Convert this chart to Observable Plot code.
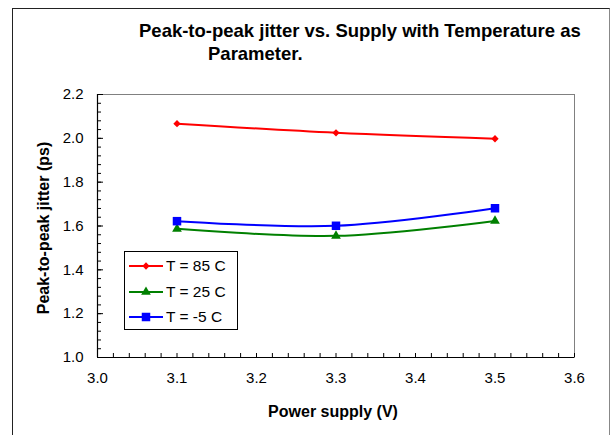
<!DOCTYPE html>
<html>
<head>
<meta charset="utf-8">
<script src="https://cdn.jsdelivr.net/npm/d3@7"></script>
<script src="https://cdn.jsdelivr.net/npm/@observablehq/plot@0.6"></script>
<style>
  html, body { margin: 0; padding: 0; background: #fff; }
  #wrap { position: relative; width: 612px; height: 435px; overflow: hidden; font-family: "Liberation Sans", Arial, sans-serif; }
  .abs { position: absolute; white-space: nowrap; color: #000; }
  #outer { position: absolute; left: 12px; top: 8px; width: 598px; height: 460px; border: 1px solid #222; border-right-color: #888; box-sizing: border-box; }
  .title { font-weight: bold; font-size: 18.5px; line-height: 20px; }
  .axt { font-weight: bold; font-size: 16px; line-height: 18px; }
  #legend { position: absolute; left: 124px; top: 251px; width: 114px; height: 79px; border: 1px solid #000; box-sizing: border-box; background: #fff; font-size: 15.5px; }
  #legend .row { position: absolute; left: 4px; height: 18px; display: flex; align-items: center; }
  #legend svg { margin-right: 3px; }
</style>
</head>
<body>
<div id="wrap">
  <div id="outer"></div>
  <div id="chart" style="position:absolute;left:0;top:0;"></div>
  <div class="abs title" id="t1" style="left:139px;top:21px;"></div>
  <div class="abs title" id="t2" style="left:208px;top:44px;"></div>
  <div class="abs axt" id="ylab" style="left:44px;top:228px;transform:translate(-50%,-50%) rotate(-90deg);"></div>
  <div class="abs axt" id="xlab" style="left:333px;top:412px;transform:translate(-50%,-50%);"></div>
  <div id="legend"></div>
</div>
<script>
// ---- data ----
const titleLines = ["Peak-to-peak jitter vs. Supply with Temperature as", "Parameter."];
const xTitle = "Power supply (V)";
const yTitle = "Peak-to-peak jitter (ps)";
const supply = [3.1, 3.3, 3.5];
const seriesNames = ["T = 85 C", "T = 25 C", "T = -5 C"];
const jitter85 = [2.067, 2.025, 1.998];
const jitter25 = [1.587, 1.555, 1.623];
const jitterM5 = [1.622, 1.601, 1.681];
const seriesColors = ["#ff0000", "#008000", "#0000ff"];
const seriesSymbols = ["diamond2", "triangle", "square"];
const xTickLabels = [3.0, 3.1, 3.2, 3.3, 3.4, 3.5, 3.6];
const yTickLabels = [1.0, 1.2, 1.4, 1.6, 1.8, 2.0, 2.2];

// ---- build ----
const allValues = [jitter85, jitter25, jitterM5];
const rows = [];
seriesNames.forEach((name, i) => supply.forEach((v, j) => rows.push({series: name, supply: v, jitter: allValues[i][j]})));

const xMinor = d3.range(0, 31).map(i => 3.0 + i * 0.02);
const yMinor = d3.range(0, 31).map(i => 1.0 + i * 0.04);

const symbolSizes = {"diamond2": 3.3, "triangle": 3.6, "square": 4.8};

const plot = Plot.plot({
  width: 612,
  height: 435,
  marginLeft: 97,
  marginRight: 38,
  marginTop: 94,
  marginBottom: 78,
  style: {fontFamily: "'Liberation Sans', Arial, sans-serif", fontSize: "15px", background: "transparent", color: "#000"},
  x: {domain: [3.0, 3.6]},
  y: {domain: [1.0, 2.2]},
  marks: [
    Plot.frame({stroke: "#808080"}),
    Plot.axisX(xMinor, {tickSize: -4, text: null, label: null, stroke: "#000"}),
    Plot.axisX(xTickLabels, {tickSize: 0, tickPadding: 15, tickFormat: d => d.toFixed(1), label: null, fill: "#000"}),
    Plot.axisY(yMinor, {tickSize: -4, text: null, label: null, stroke: "#000"}),
    Plot.axisY(yTickLabels, {tickSize: -6, tickPadding: 20, tickFormat: d => d.toFixed(1), label: null, fill: "#000"}),
    Plot.ruleX([3.0], {stroke: "#000", strokeWidth: 1.2}),
    Plot.ruleY([1.0], {stroke: "#000", strokeWidth: 1.2}),
    Plot.line(rows, {x: "supply", y: "jitter", z: "series", stroke: "series", strokeWidth: 2, curve: "catmull-rom"}),
    ...seriesNames.map((name, i) => Plot.dot(rows.filter(r => r.series === name), {
      x: "supply", y: "jitter", fill: seriesColors[i], stroke: "none",
      symbol: () => seriesSymbols[i], r: symbolSizes[seriesSymbols[i]]
    }))
  ],
  color: {domain: seriesNames, range: seriesColors}
});
document.getElementById("chart").appendChild(plot);

document.getElementById("t1").textContent = titleLines[0];
document.getElementById("t2").textContent = titleLines[1];
document.getElementById("xlab").textContent = xTitle;
document.getElementById("ylab").textContent = yTitle;

// legend
const leg = document.getElementById("legend");
const symMap = {"diamond2": d3.symbolDiamond2, "triangle": d3.symbolTriangle, "square": d3.symbolSquare};
seriesNames.forEach((name, i) => {
  const row = document.createElement("div");
  row.className = "row";
  row.style.top = (5 + i * 25.5) + "px";
  const ns = "http://www.w3.org/2000/svg";
  const s = document.createElementNS(ns, "svg");
  s.setAttribute("width", 34); s.setAttribute("height", 14);
  const ln = document.createElementNS(ns, "line");
  ln.setAttribute("x1", 0); ln.setAttribute("x2", 34); ln.setAttribute("y1", 7); ln.setAttribute("y2", 7);
  ln.setAttribute("stroke", seriesColors[i]); ln.setAttribute("stroke-width", 2);
  s.appendChild(ln);
  const r = symbolSizes[seriesSymbols[i]];
  const p = document.createElementNS(ns, "path");
  p.setAttribute("d", d3.symbol(symMap[seriesSymbols[i]], Math.PI * r * r)());
  p.setAttribute("transform", "translate(17,7)");
  p.setAttribute("fill", seriesColors[i]);
  s.appendChild(p);
  row.appendChild(s);
  const t = document.createElement("span");
  t.textContent = name;
  row.appendChild(t);
  leg.appendChild(row);
});
</script>
</body>
</html>
